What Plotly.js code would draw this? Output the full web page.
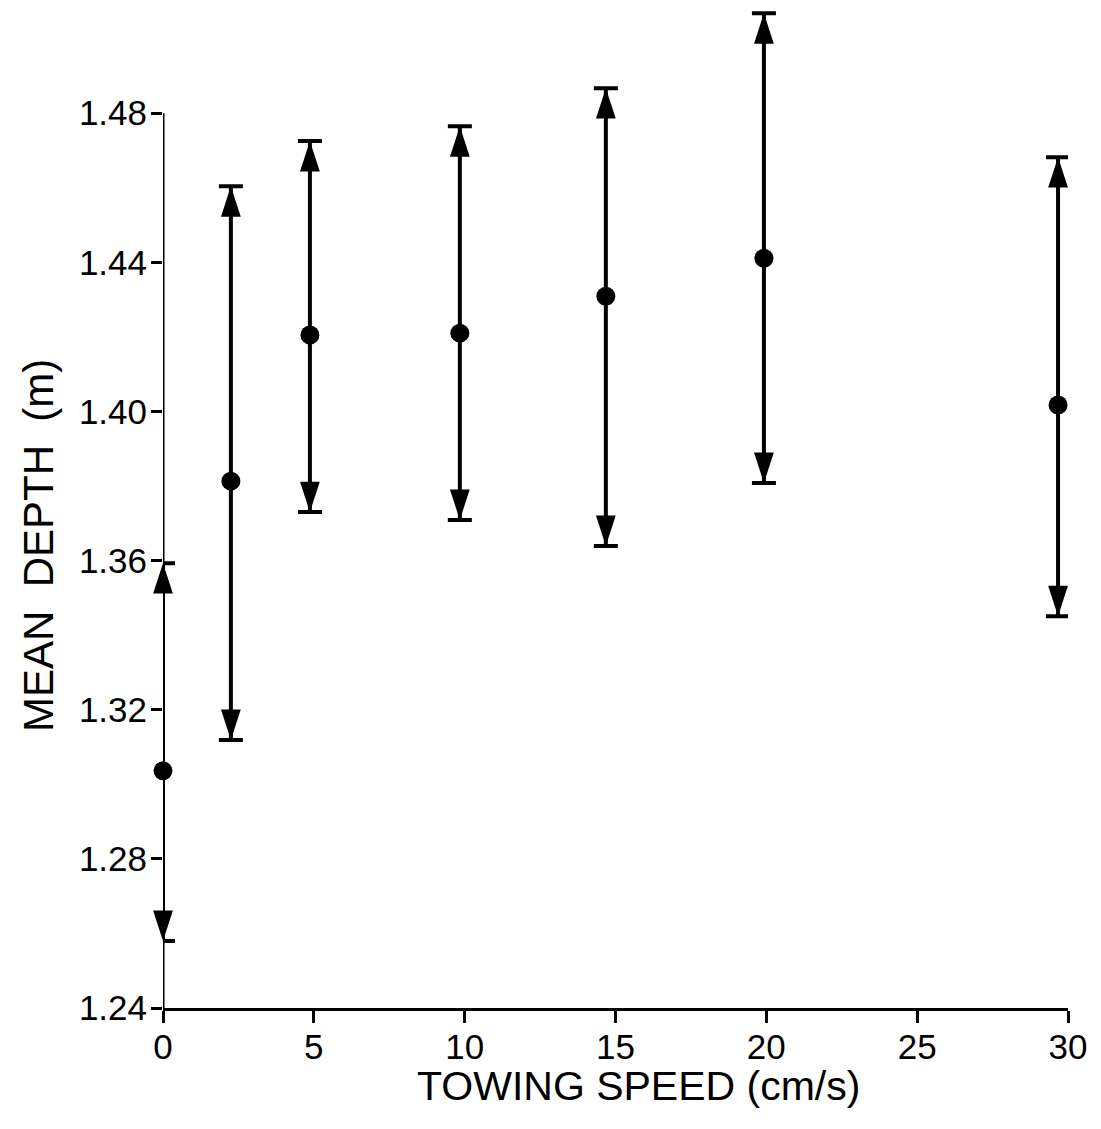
<!DOCTYPE html>
<html>
<head>
<meta charset="utf-8">
<script src="https://cdn.plot.ly/plotly-3.0.1.min.js"></script>
<style>html,body{margin:0;padding:0;background:#fff;}#chart{width:1101px;height:1129px;}</style>
</head>
<body>
<div id="chart"></div>
<script>
// Towing speed (cm/s)
const speed = [0, 2.25, 4.87, 9.84, 14.68, 19.92, 29.67];
// Mean depth (m)
const meanDepth = [1.3036, 1.3813, 1.4205, 1.421, 1.4309, 1.4411, 1.4017];
// Upper and lower limits of range (m)
const upperDepth = [1.3593, 1.4604, 1.4725, 1.4765, 1.4867, 1.5068, 1.4682];
const lowerDepth = [1.258, 1.3119, 1.373, 1.3709, 1.3639, 1.3808, 1.3451];
// Tick values
const xTicks = [0, 5, 10, 15, 20, 25, 30];
const yTicks = [1.24, 1.28, 1.32, 1.36, 1.40, 1.44, 1.48];
// Axis titles
const xTitle = 'TOWING SPEED (cm/s)';
const yTitle = 'MEAN\u00a0\u00a0DEPTH\u00a0\u00a0(m)';

const plus = upperDepth.map((u, i) => u - meanDepth[i]);
const minus = lowerDepth.map((l, i) => meanDepth[i] - l);

const font = 'Liberation Sans, Arial, Helvetica, sans-serif';

const traces = [
  {
    x: speed, y: meanDepth, type: 'scatter', mode: 'markers',
    cliponaxis: false,
    error_y: {type: 'data', symmetric: false, array: plus, arrayminus: minus,
              color: '#000', thickness: 4, width: 12},
    marker: {symbol: 'circle', size: 19, color: '#000'},
    showlegend: false, hoverinfo: 'x+y'
  },
  {
    x: speed, y: upperDepth, type: 'scatter', mode: 'markers',
    cliponaxis: false,
    marker: {symbol: 'arrow', size: 32, angle: 0, color: '#000'},
    showlegend: false, hoverinfo: 'skip'
  },
  {
    x: speed, y: lowerDepth, type: 'scatter', mode: 'markers',
    cliponaxis: false,
    marker: {symbol: 'arrow', size: 32, angle: 180, color: '#000'},
    showlegend: false, hoverinfo: 'skip'
  }
];

const layout = {
  width: 1101, height: 1129,
  margin: {l: 163, r: 33, t: 8, b: 121, pad: 0},
  paper_bgcolor: '#fff', plot_bgcolor: '#fff',
  font: {family: font, color: '#000', size: 32},
  xaxis: {
    range: [xTicks[0], xTicks[xTicks.length - 1]],
    tickvals: xTicks, ticktext: xTicks.map(String),
    ticks: 'outside', ticklen: 12, tickwidth: 3, tickcolor: '#000',
    showline: true, linewidth: 3, linecolor: '#000',
    showgrid: false, zeroline: false,
    ticklabelstandoff: -6,
    tickfont: {size: 35}
  },
  yaxis: {
    range: [yTicks[0], 1.5082],
    tickvals: yTicks, ticktext: yTicks.map(v => v.toFixed(2)),
    ticks: 'outside', ticklen: 11, tickwidth: 3, tickcolor: '#000',
    showline: false,
    showgrid: false, zeroline: false,
    ticklabelstandoff: -3,
    tickfont: {size: 35}
  },
  annotations: [
    {text: xTitle, xref: 'paper', yref: 'paper', x: 0.525, y: 0,
     xanchor: 'center', yanchor: 'middle', yshift: -78, showarrow: false,
     font: {size: 41}},
    {text: yTitle, xref: 'paper', yref: 'paper', x: 0, y: 0.462,
     xanchor: 'center', yanchor: 'middle', xshift: -125, showarrow: false,
     textangle: -90, font: {size: 42}}
  ],
  shapes: [
    {type: 'line', xref: 'x', yref: 'y',
     x0: xTicks[0], x1: xTicks[0], y0: yTicks[0], y1: yTicks[yTicks.length - 1],
     line: {color: '#000', width: 3}, layer: 'below'}
  ]
};

Plotly.newPlot('chart', traces, layout, {displayModeBar: false, staticPlot: true});
</script>
</body>
</html>
